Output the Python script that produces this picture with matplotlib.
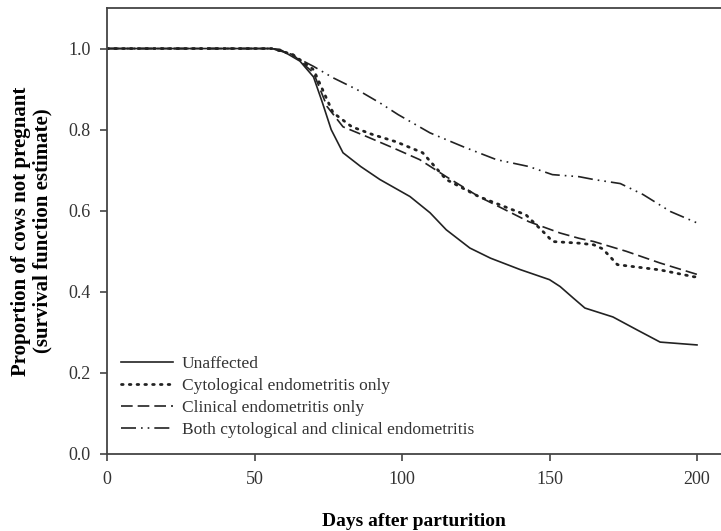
import matplotlib.pyplot as plt

plt.rcParams['font.family'] = ['Liberation Serif', 'DejaVu Serif']

# Дані
days_unaff = [0, 55, 58.6, 65.4, 70, 73, 76, 80, 86, 92.5, 102.7, 109.5, 115, 123, 130, 140,
              150, 153.6, 158, 162, 171.5, 179.7, 187.5, 200]
surv_unaff = [1.0, 1.0, 0.998, 0.969, 0.93, 0.867, 0.80, 0.743, 0.709, 0.677, 0.635, 0.595,
              0.553, 0.508, 0.483, 0.455, 0.43, 0.413, 0.385, 0.36, 0.338, 0.306, 0.276, 0.269]

days_cyto = [0, 56, 63, 70, 74.6, 76.6, 83, 90, 98, 107, 115, 126, 137.6, 142, 149, 151, 160,
             165, 168, 170.5, 173, 187.5, 199, 200]
surv_cyto = [1.0, 1.0, 0.985, 0.948, 0.874, 0.842, 0.807, 0.788, 0.77, 0.743, 0.677, 0.635,
             0.602, 0.59, 0.54, 0.524, 0.52, 0.516, 0.506, 0.487, 0.467, 0.454, 0.437, 0.437]

days_clin = [0, 56, 63, 70, 74.6, 80, 88, 97, 106, 115, 126, 143, 153.6, 160, 165, 176,
             187.5, 200]
surv_clin = [1.0, 1.0, 0.985, 0.94, 0.857, 0.807, 0.783, 0.755, 0.726, 0.684, 0.635, 0.573,
             0.545, 0.532, 0.524, 0.5, 0.471, 0.443]

days_both = [0, 56, 61, 70, 76.6, 84.7, 92.5, 98.7, 109.5, 120.7, 132, 143, 151, 160, 165,
             174, 181.7, 191, 200]
surv_both = [1.0, 1.0, 0.99, 0.956, 0.928, 0.899, 0.866, 0.837, 0.792, 0.758, 0.726, 0.709,
             0.689, 0.684, 0.677, 0.667, 0.64, 0.598, 0.57]

labels = ['Unaffected', 'Cytological endometritis only', 'Clinical endometritis only',
          'Both cytological and clinical endometritis']
xticks = [0, 50, 100, 150, 200]
yticks = [0.0, 0.2, 0.4, 0.6, 0.8, 1.0]

fig = plt.figure(figsize=(7.21, 5.31), dpi=100)
ax = fig.add_axes([107 / 721, 77 / 531, 614 / 721, 446 / 531])

c = '#222222'
ax.plot(days_unaff, surv_unaff, color=c, lw=1.2, linestyle='-', label=labels[0])
ax.plot(days_cyto, surv_cyto, color=c, lw=2.0, linestyle=(0, (0.6, 2.2)),
        dash_capstyle='round', label=labels[1])
ax.plot(days_clin, surv_clin, color=c, lw=1.2, linestyle=(0, (7, 3)), label=labels[2])
ax.plot(days_both, surv_both, color=c, lw=1.2, linestyle=(0, (9, 3, 1, 3, 1, 3)),
        label=labels[3])

ax.set_xlim(0, 614 / 2.95)
ax.set_ylim(0, 1.1)
ax.set_xticks(xticks)
ax.set_yticks(yticks)
ax.set_yticklabels(['%.1f' % v for v in yticks])

ax.spines['right'].set_visible(False)
for s in ['left', 'bottom', 'top']:
    ax.spines[s].set_linewidth(1.3)
    ax.spines[s].set_color('#444444')
ax.tick_params(axis='both', direction='out', length=5, width=1.2, color='#444444',
               labelsize=13, labelcolor='#333333', pad=7)

ax.set_xlabel('Days after parturition', fontsize=14, fontweight='bold', labelpad=18)
ax.set_ylabel('Proportion of cows not pregnant\n(survival function estimate)',
              fontsize=15, fontweight='bold', labelpad=11, linespacing=1.1)

ax.legend(loc='lower left', bbox_to_anchor=(-0.003, 0.0), frameon=False, fontsize=12.5,
          handlelength=3.0, handletextpad=0.5, labelspacing=0.35, labelcolor='#333333')

fig.savefig('out.png', dpi=100)
